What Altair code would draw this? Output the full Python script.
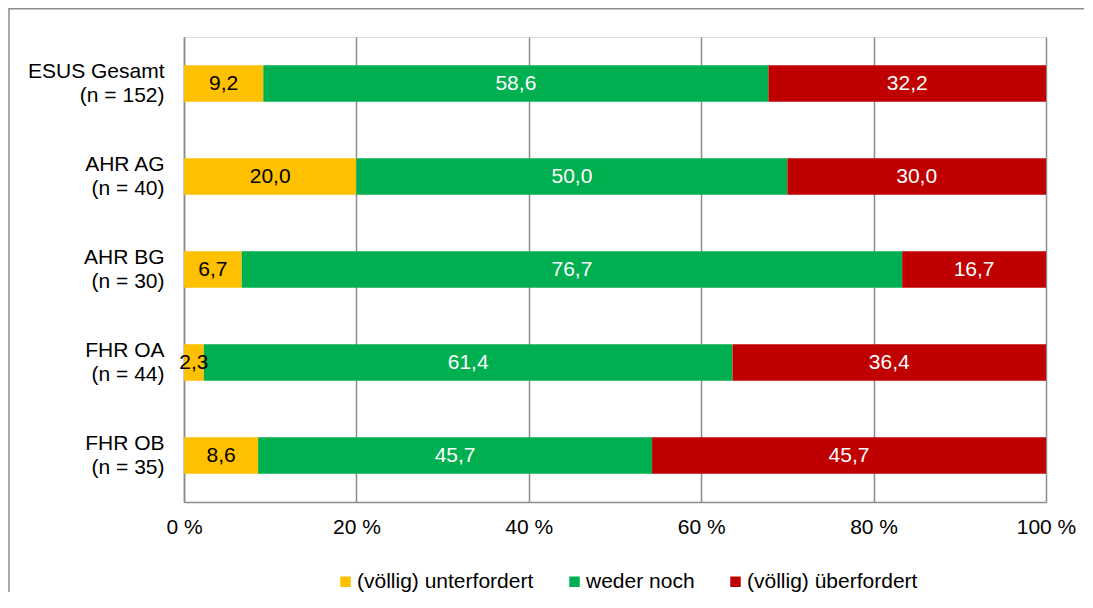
import altair as alt
import pandas as pd

categories = ["ESUS Gesamt|(n = 152)", "AHR AG|(n = 40)", "AHR BG|(n = 30)", "FHR OA|(n = 44)", "FHR OB|(n = 35)"]
series = ["(völlig) unterfordert", "weder noch", "(völlig) überfordert"]
unter = [9.2, 20.0, 6.7, 2.3, 8.6]
weder = [58.6, 50.0, 76.7, 61.4, 45.7]
ueber = [32.2, 30.0, 16.7, 36.4, 45.7]
colors = ["#FFC000", "#00B050", "#C00000"]
text_colors = ["#000000", "#FFFFFF", "#FFFFFF"]
ticks = [0, 0.2, 0.4, 0.6, 0.8, 1.0]

rows = []
for i, c in enumerate(categories):
    for j, (s, vals) in enumerate(zip(series, [unter, weder, ueber])):
        rows.append({"cat": c, "series": s, "value": vals[i], "order": j, "tcolor": text_colors[j]})
df = pd.DataFrame(rows)

FONT = "Liberation Sans"
FS = 21

base = alt.Chart(df).transform_stack(
    stack="value", groupby=["cat"], as_=["x0", "x1"], offset="normalize",
    sort=[alt.SortField("order")]
).transform_calculate(mid="(datum.x0 + datum.x1) / 2")

yenc = alt.Y("cat:N", sort=categories, title=None,
             scale=alt.Scale(paddingInner=0.607, paddingOuter=0.3035),
             axis=alt.Axis(labelExpr="split(datum.label, '|')", labelFont=FONT, labelFontSize=FS,
                           labelColor="#000000", labelPadding=20, labelLineHeight=24,
                           labelOffset=-12,
                           ticks=False, domainColor="#8C8C8C", domainWidth=1.5, grid=False,
                           labelAlign="right", labelBaseline="middle"))

bars = base.mark_bar().encode(
    x=alt.X("x0:Q", scale=alt.Scale(domain=[0, 1]), title=None,
            axis=alt.Axis(values=ticks, labelExpr="format(datum.value * 100, 'd') + ' %'",
                          labelFont=FONT, labelFontSize=FS, labelColor="#000000", labelPadding=14,
                          ticks=False, grid=True, gridColor="#8C8C8C", gridWidth=1.5,
                          domainColor="#8C8C8C", domainWidth=1.5, labelFlush=False)),
    x2="x1:Q",
    y=yenc,
    color=alt.Color("series:N", scale=alt.Scale(domain=series, range=colors), sort=series,
                    legend=alt.Legend(title=None, orient="none", direction="horizontal",
                                      legendX=151, legendY=534, symbolType="square", symbolSize=110,
                                      symbolStrokeWidth=0, labelFont=FONT, labelFontSize=FS,
                                      labelColor="#000000", labelOffset=1, columnPadding=30,
                                      labelLimit=0, padding=0)),
)

labels = base.mark_text(font=FONT, fontSize=FS, baseline="middle", align="center").encode(
    x="mid:Q",
    y=alt.Y("cat:N", sort=categories),
    text=alt.Text("label:N"),
    color=alt.Color("tcolor:N", scale=None),
).transform_calculate(label="replace(format(datum.value, '.1f'), '.', ',')")

frame = alt.Chart(pd.DataFrame({"a": [0]})).mark_rect(
    fillOpacity=0, stroke="#8C8C8C", strokeWidth=1.5
).encode(x=alt.value(-175), x2=alt.value(920), y=alt.value(-28.25), y2=alt.value(620))

chart = alt.layer(frame, bars, labels).properties(
    width=862, height=465,
    autosize=alt.AutoSizeParams(type="none"),
    padding={"left": 176, "top": 29, "right": 38, "bottom": 90},
).configure_view(stroke=None).configure(background="#FFFFFF")

chart.save("out.html", embed_options={"renderer": "svg", "actions": False})
